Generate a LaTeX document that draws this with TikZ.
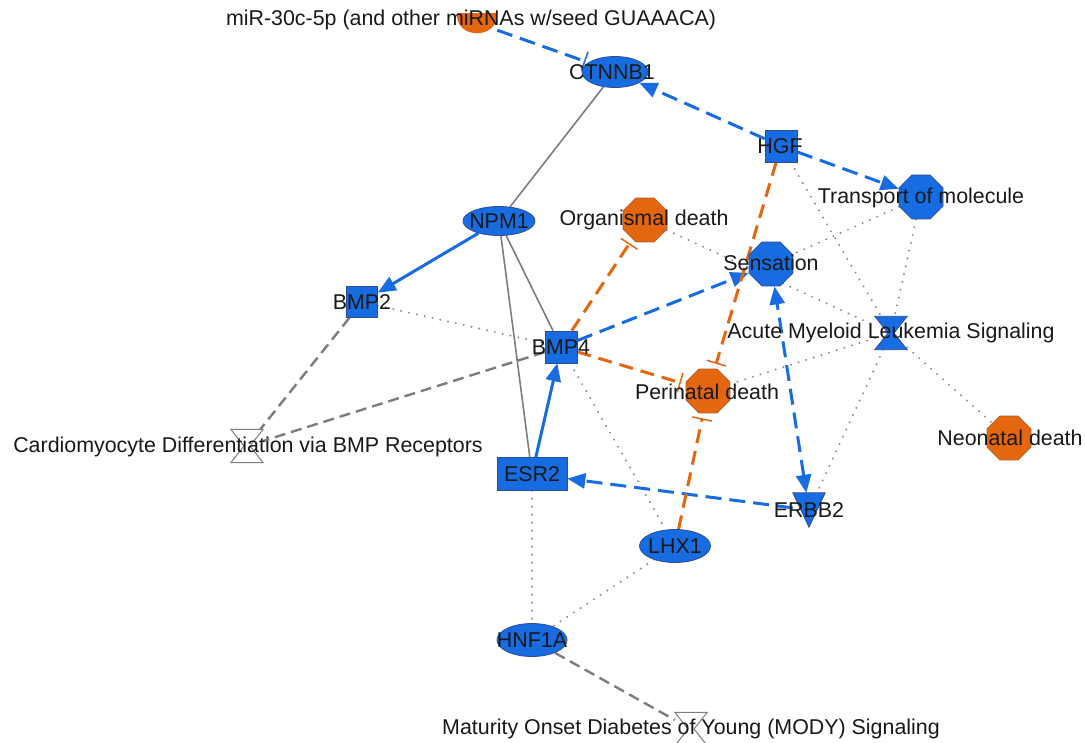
\documentclass[tikz,border=0pt]{standalone}
\usepackage{fontspec}
\setmainfont{Liberation Sans}
\usetikzlibrary{arrows.meta,shapes.geometric,backgrounds,calc}
\definecolor{ipablue}{RGB}{24,108,226}
\definecolor{ipaorange}{RGB}{228,102,14}
\definecolor{orangeedge}{RGB}{170,95,50}
\definecolor{blueedge}{RGB}{45,75,150}
\definecolor{grayline}{RGB}{125,125,125}
\definecolor{dotgray}{RGB}{140,140,140}
\definecolor{txtcol}{RGB}{25,25,25}
\tikzset{
  octoO/.style={regular polygon, regular polygon sides=8, minimum size=47.6pt, inner sep=0pt, fill=ipaorange, draw=orangeedge, line width=0.8pt},
  octoB/.style={regular polygon, regular polygon sides=8, minimum size=47.6pt, inner sep=0pt, fill=ipablue, draw=blueedge, line width=0.8pt},
  geneE/.style={ellipse, inner sep=0pt, fill=ipablue, draw=blueedge, line width=0.8pt},
  geneR/.style={rectangle, inner sep=0pt, fill=ipablue, draw=blueedge, line width=0.6pt},
  ghost/.style={rectangle, inner sep=0pt},
  lbl/.style={font=\fontsize{21.4}{25}\selectfont, text=txtcol, inner sep=0pt},
  hgB/.style={fill=ipablue, draw=blueedge, line width=0.8pt},
  hgW/.style={fill=white, draw=grayline, line width=1pt},
  bdash/.style={draw=ipablue, line width=3pt, dash pattern=on 16pt off 8pt},
  bsolid/.style={draw=ipablue, line width=3pt},
  arr/.style={-{Triangle[length=18pt,width=15pt]}},
  barr/.style={{Triangle[length=18pt,width=15pt]}-{Triangle[length=18pt,width=15pt]}},
  odash/.style={draw=ipaorange, line width=3pt, dash pattern=on 14pt off 8pt, -{Bar[width=20pt,line width=1.5pt]}, shorten >=5pt},
  gsolid/.style={draw=grayline, line width=1.6pt},
  gdash/.style={draw=grayline, line width=2.4pt, dash pattern=on 11pt off 6pt},
  gdot/.style={draw=dotgray, line width=2.2pt, line cap=round, dash pattern=on 0pt off 8pt}
}
\begin{document}
\begin{tikzpicture}[x=1pt,y=-1pt]
\useasboundingbox (0,0) rectangle (1086,742);

% ---- shapes ----
\node[ghost, minimum width=40pt, minimum height=22pt] (mir) at (477,23) {};
\fill[ipaorange] (457,13) -- (497,13) .. controls (499,40) and (455,40) .. (457,13) -- cycle;

\node[geneE, minimum width=66pt, minimum height=31pt] (ctnnb1) at (615,72) {};
\node[geneR, minimum size=32pt] (hgf) at (781,146) {};
\node[octoB] (trans) at (921,197) {};
\node[geneE, minimum width=72pt, minimum height=29pt] (npm1) at (499,221) {};
\node[octoO] (orgd) at (645,220) {};
\node[octoB] (sens) at (771,264) {};
\node[geneR, minimum size=31pt] (bmp2) at (362,302) {};
\node[geneR, minimum size=32pt] (bmp4) at (561,347) {};
\node[ghost, minimum width=32pt, minimum height=33pt] (aml) at (891,333) {};
\draw[hgB] (aml.north west) -- (aml.north east) -- ($(aml.center)+(3,0)$) -- (aml.south east) -- (aml.south west) -- ($(aml.center)+(-3,0)$) -- cycle;
\node[octoO] (peri) at (708,391) {};
\node[ghost, minimum width=32pt, minimum height=33pt] (cardio) at (247,446) {};
\draw[hgW] (cardio.north west) -- (cardio.north east) -- ($(cardio.center)+(3,0)$) -- (cardio.south east) -- (cardio.south west) -- ($(cardio.center)+(-3,0)$) -- cycle;
\node[octoO] (neod) at (1009,438) {};
\node[geneR, minimum width=70pt, minimum height=33pt] (esr2) at (532,474) {};
\node[ghost, minimum width=32pt, minimum height=34pt] (erbb2) at (809,510) {};
\draw[hgB] (erbb2.north west) -- (erbb2.north east) -- (erbb2.south) -- cycle;
\node[geneE, minimum width=71pt, minimum height=33pt] (lhx1) at (675,546) {};
\node[geneE, minimum width=70pt, minimum height=33pt] (hnf1a) at (532,640) {};
\node[ghost, minimum width=32pt, minimum height=33pt] (mody) at (691,729) {};
\draw[hgW] (mody.north west) -- (mody.north east) -- ($(mody.center)+(3,0)$) -- (mody.south east) -- (mody.south west) -- ($(mody.center)+(-3,0)$) -- cycle;

% ---- connectors ----
\begin{pgfonlayer}{background}
\fill[white] (0,0) rectangle (1086,742);
\draw[bdash,-{Bar[width=20pt,line width=1.5pt]},shorten >=3pt] (mir) -- (ctnnb1);
\draw[bdash,arr] (hgf) -- (ctnnb1);
\draw[bdash,arr] (hgf) -- (trans);
\draw[gsolid] (ctnnb1) -- (npm1);
\draw[bsolid,arr] (npm1) -- (bmp2);
\draw[gsolid] (npm1) -- (bmp4);
\draw[gsolid] (npm1) -- (esr2);
\draw[gdot] (bmp2) -- (bmp4);
\draw[gdash] (bmp2) -- (cardio);
\draw[gdash] (bmp4) -- (cardio);
\draw[odash] (bmp4) -- (orgd);
\draw[bdash,arr] (bmp4) -- (sens);
\draw[odash] (bmp4) -- (peri);
\draw[gdot] (bmp4) -- (lhx1);
\draw[bsolid,arr] (esr2) -- (bmp4);
\draw[bdash,arr] (erbb2) -- (esr2);
\draw[bdash,barr] (erbb2) -- (sens);
\draw[odash] (hgf) -- (peri);
\draw[odash] (lhx1) -- (peri);
\draw[gdot] (orgd) -- (aml);
\draw[gdot] (hgf) -- (aml);
\draw[gdot] (trans) -- (sens);
\draw[gdot] (trans) -- (aml);
\draw[gdot] (aml) -- (peri);
\draw[gdot] (aml) -- (erbb2);
\draw[gdot] (aml) -- (neod);
\draw[gdot] (esr2) -- (hnf1a);
\draw[gdot] (lhx1) -- (hnf1a);
\draw[gdash] (hnf1a) -- (mody);
\end{pgfonlayer}

% ---- labels ----
\node[lbl] (mirT) at (471,20) {miR-30c-5p (and other miRNAs w/seed GUAAACA)};
\node[lbl] (ctnnb1T) at (612,72) {CTNNB1};
\node[lbl] (hgfT) at (780,146) {HGF};
\node[lbl] (transT) at (921,198) {Transport of molecule};
\node[lbl] (npm1T) at (499,221) {NPM1};
\node[lbl] (orgdT) at (644,220) {Organismal death};
\node[lbl] (sensT) at (771,263) {Sensation};
\node[lbl] (bmp2T) at (362,302) {BMP2};
\node[lbl] (bmp4T) at (561,347) {BMP4};
\node[lbl] (amlT) at (891,333) {Acute Myeloid Leukemia Signaling};
\node[lbl] (periT) at (707,392) {Perinatal death};
\node[lbl] (cardioT) at (248,447) {Cardiomyocyte Differentiation via BMP Receptors};
\node[lbl] (neodT) at (1010,438) {Neonatal death};
\node[lbl] (esr2T) at (532,474) {ESR2};
\node[lbl] (erbb2T) at (809,510) {ERBB2};
\node[lbl] (lhx1T) at (675,546) {LHX1};
\node[lbl] (hnf1aT) at (532,640) {HNF1A};
\node[lbl] (modyT) at (691,729) {Maturity Onset Diabetes of Young (MODY) Signaling};
\end{tikzpicture}
\end{document}
